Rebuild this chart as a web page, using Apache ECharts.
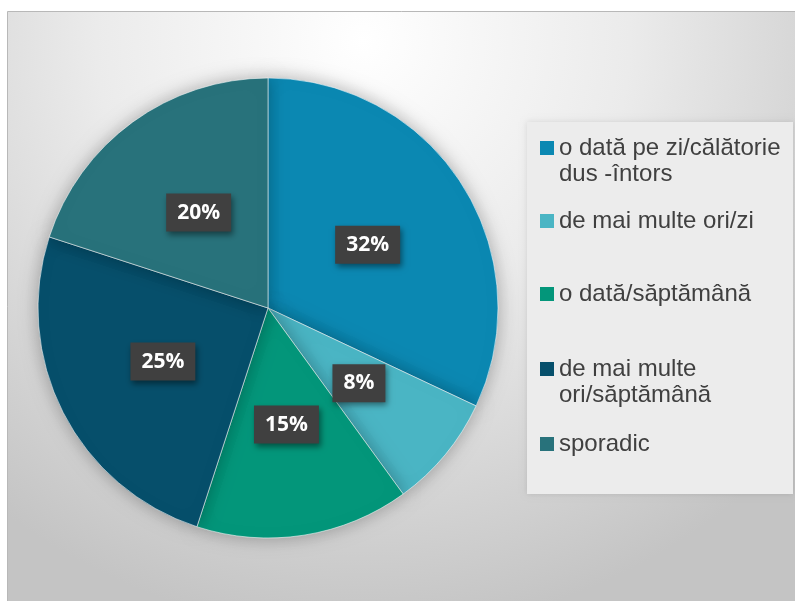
<!DOCTYPE html>
<html>
<head>
<meta charset="utf-8">
<script src="https://cdn.jsdelivr.net/npm/echarts@6/dist/echarts.min.js"></script>
<style>
  html, body { margin: 0; padding: 0; background: #ffffff; }
  #chart { width: 795px; height: 601px; }
</style>
</head>
<body>
<div id="chart"></div>
<script>
// Frequency of travel (share of respondents)
const categories = [
  'o dată pe zi/călătorie dus -întors',
  'de mai multe ori/zi',
  'o dată/săptămână',
  'de mai multe ori/săptămână',
  'sporadic'
];
const legendText = [
  'o dată pe zi/călătorie\ndus -întors',
  'de mai multe ori/zi',
  'o dată/săptămână',
  'de mai multe\nori/săptămână',
  'sporadic'
];
const values = [32, 8, 15, 25, 20];
const colors = ['#0b88b2', '#4ab5c4', '#03967a', '#064f6b', '#28727b'];

const chart = echarts.init(document.getElementById('chart'));

const LINE_H = 26;
// Vertical centre of each legend marker inside the legend panel
const markerCenters = [148, 221, 294, 369, 444];

const legends = categories.map((name, i) => {
  const multi = legendText[i].indexOf('\n') >= 0;
  // multi-line entries get a blank line on top so the marker sits on the first text line
  const label = multi ? '\n' + legendText[i] : legendText[i];
  const lines = label.split('\n').length;
  return {
    data: [name],
    orient: 'vertical',
    left: 540,
    top: markerCenters[i] - (lines * LINE_H) / 2,
    padding: 0,
    itemWidth: 14,
    itemHeight: 14,
    itemGap: 0,
    icon: 'rect',
    selectedMode: false,
    itemStyle: { borderWidth: 0, shadowBlur: 0 },
    formatter: () => label,
    textStyle: {
      fontFamily: 'Liberation Sans',
      fontSize: 24,
      color: '#404040',
      lineHeight: LINE_H
    }
  };
});

chart.setOption({
  animation: false,
  color: colors,
  graphic: [
    {
      type: 'rect',
      z: -10,
      shape: { x: 7.5, y: 11.5, width: 790, height: 592 },
      style: {
        fill: {
          type: 'radial', x: 0.45, y: 0.05, r: 1.0,
          colorStops: [
            { offset: 0, color: '#ffffff' },
            { offset: 0.45, color: '#ebebeb' },
            { offset: 1, color: '#c4c4c4' }
          ]
        },
        stroke: '#b8b8b8',
        lineWidth: 1
      }
    },
    {
      type: 'rect',
      z: -5,
      shape: { x: 527, y: 122, width: 266, height: 372 },
      style: {
        fill: '#ececec',
        shadowBlur: 6,
        shadowColor: 'rgba(0,0,0,0.12)'
      }
    }
  ],
  legend: legends,
  series: [{
    type: 'pie',
    center: [268, 308],
    radius: [0, 230],
    startAngle: 90,
    clockwise: true,
    label: {
      show: true,
      position: 'inside',
      formatter: p => p.value + '%',
      fontFamily: 'Open Sans',
      fontWeight: 'bold',
      fontSize: 21,
      lineHeight: 22,
      color: '#ffffff',
      backgroundColor: '#404040',
      padding: [9, 11, 7, 11],
      shadowBlur: 6,
      shadowOffsetX: 2,
      shadowOffsetY: 3,
      shadowColor: 'rgba(0,0,0,0.45)'
    },
    labelLine: { show: false },
    itemStyle: {
      borderColor: 'rgba(255,255,255,0.55)',
      borderWidth: 1,
      shadowBlur: 18,
      shadowColor: 'rgba(0,0,0,0.3)'
    },
    emphasis: { disabled: true },
    data: categories.map((name, i) => ({ name, value: values[i] }))
  }]
});
</script>
</body>
</html>
